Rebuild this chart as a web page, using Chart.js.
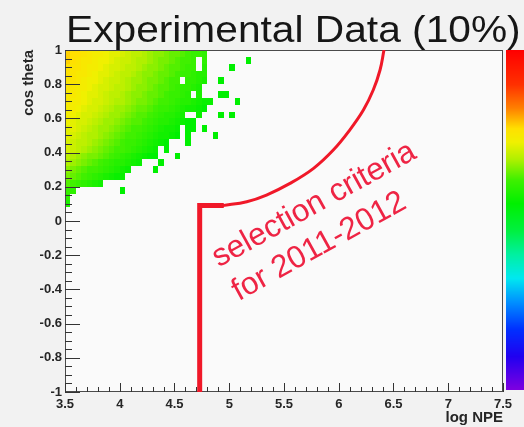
<!DOCTYPE html>
<html><head><meta charset="utf-8">
<script src="https://cdn.jsdelivr.net/npm/chart.js@4.4.1/dist/chart.umd.min.js"></script>
<style>html,body{margin:0;padding:0;background:#f2f2f2;overflow:hidden}#wrap{width:524px;height:427px}</style>
</head><body><div id="wrap"><canvas id="c" width="524" height="427"></canvas></div>
<script>
// ---------- text ----------
const titleText = 'Experimental Data (10%)';
const xTitle = 'log NPE';
const yTitle = 'cos theta';
const annotationLines = ['selection criteria', 'for 2011-2012'];

// ---------- axes ----------
const xTickValues = [3.5, 4, 4.5, 5, 5.5, 6, 6.5, 7, 7.5];
const xTickLabels = ['3.5', '4', '4.5', '5', '5.5', '6', '6.5', '7', '7.5'];
const yTickValues = [-1, -0.8, -0.6, -0.4, -0.2, 0, 0.2, 0.4, 0.6, 0.8, 1];
const yTickLabels = ['-1', '-0.8', '-0.6', '-0.4', '-0.2', '0', '0.2', '0.4', '0.6', '0.8', '1'];

// ---------- 2D histogram (bins: 0.05 in log NPE, 0.04 in cos theta) ----------
const binStartLogNPE = 3.5;
const binWidthLogNPE = 0.05;
const binHeightCos = 0.04;
// upper cos-theta edge of each row of bins
const rowTopCos = [1.00, 0.96, 0.92, 0.88, 0.84, 0.80, 0.76, 0.72, 0.68, 0.64, 0.60, 0.56,
                   0.52, 0.48, 0.44, 0.40, 0.36, 0.32, 0.28, 0.24, 0.20, 0.16, 0.12];
// colour-scale value (0-100 on the palette) of each bin, starting at log NPE = 3.5; 0 = empty
const rowZ = [
  [78,77,77,76,75,74,74,73,72,72,71,70,69,69,68,67,66,66,65,64,64,63,62,61,61,60],
  [78,77,76,75,75,74,73,73,72,71,70,70,69,68,68,67,66,65,65,64,63,62,62,61,0,60],
  [77,76,76,75,74,74,73,72,71,71,70,69,69,68,67,66,66,65,64,63,63,62,61,61,0,59],
  [77,76,75,75,74,73,72,72,71,70,69,69,68,67,66,66,65,64,64,63,62,61,61,60,59,59],
  [76,76,75,74,73,73,72,71,70,70,69,68,67,67,66,65,65,64,63,62,62,0,60,60,59,58],
  [76,75,74,74,73,72,71,71,70,69,69,68,67,66,66,65,64,63,63,62,61,60,60,59,58],
  [75,75,74,73,72,72,71,70,69,69,68,67,66,66,65,64,64,63,62,61,61,60,59,0,58],
  [75,74,74,73,72,71,71,70,69,68,68,67,66,65,65,64,63,62,62,61,60,59,59,58,57,56,56],
  [74,74,73,72,71,71,70,69,68,67,67,66,65,64,64,63,62,61,61,60,59,58,57,57,56,55],
  [74,73,72,71,71,70,69,68,67,67,66,65,64,63,63,62,61,60,59,59,58,57,0,0,56],
  [73,72,71,71,70,69,68,67,67,66,65,64,63,63,62,61,60,59,59,58,57,56,55,55],
  [72,72,71,70,69,68,67,67,66,65,64,63,62,62,61,60,59,58,57,57,56,0,55,55,0,55],
  [72,71,70,69,68,68,67,66,65,64,63,62,62,61,60,59,58,57,57,56,55,0,55,0,0,0,0,55],
  [71,70,69,69,68,67,66,65,64,63,62,61,61,60,59,58,57,56,55,0,0,0,55],
  [71,70,69,68,67,66,65,64,63,62,62,61,60,59,58,57,56,0,55],
  [69,68,67,66,65,65,64,63,62,61,60,59,58,57,56,55,55,0,0,0,55],
  [68,67,66,65,64,63,62,61,60,59,59,58,57,56,0,0,0,55],
  [66,65,64,63,62,62,61,60,59,58,57,56,0,0,0,0,55],
  [65,64,63,62,61,60,59,58,57,56,56],
  [63,62,61,60,59,58,57],
  [61,60,0,0,0,0,0,0,0,0,55],
  [60],
  [58]
];
// isolated bins further right (lower log NPE edge, upper cos edge, value)
const isoLogNPE = [5.15, 5.00, 4.90, 4.90, 4.95, 5.05, 4.90, 5.00];
const isoCos    = [0.96, 0.92, 0.84, 0.76, 0.76, 0.72, 0.64, 0.64];
const isoZ      = [55, 55, 55, 55, 55, 55, 55, 55];

// ---------- selection criteria curve ----------
const cutLogNPE = [4.73, 4.73, 4.95];
const cutCos    = [-1.0, 0.09, 0.09];
const arcLogNPE = [4.94, 5.16, 5.34, 5.555, 5.77, 5.95, 6.10, 6.225, 6.315, 6.377, 6.413];
const arcCos    = [0.09, 0.113, 0.152, 0.22, 0.308, 0.415, 0.532, 0.649, 0.766, 0.883, 1.0];
const annotationAt = {x: 4.905, y: -0.272};

// ---------- palette (ROOT rainbow) ----------
const paletteZ = [0, 10, 18, 26, 33, 40, 47, 55, 62, 68, 73, 77, 83, 90, 100];
const paletteRGB = [[128,0,224],[32,0,240],[0,48,255],[0,144,255],[0,232,240],[0,240,160],[0,240,64],
                    [0,240,0],[64,240,0],[176,240,0],[240,240,0],[255,224,0],[255,128,0],[255,48,0],[255,0,0]];
function zColor(z) {
  if (z <= paletteZ[0]) return 'rgb(' + paletteRGB[0].join(',') + ')';
  for (let k = 1; k < paletteZ.length; k++) {
    if (z <= paletteZ[k]) {
      const f = (z - paletteZ[k-1]) / (paletteZ[k] - paletteZ[k-1]);
      const a = paletteRGB[k-1], b = paletteRGB[k];
      return 'rgb(' + [0,1,2].map(c => Math.round(a[c] + f*(b[c]-a[c]))).join(',') + ')';
    }
  }
  return 'rgb(' + paletteRGB[paletteRGB.length-1].join(',') + ')';
}

// ---------- build datasets from the arrays ----------
const cells = [];
rowZ.forEach((row, j) => row.forEach((z, i) => {
  if (z > 0) cells.push({x: binStartLogNPE + (i + 0.5) * binWidthLogNPE, y: rowTopCos[j] - binHeightCos / 2, z});
}));
isoLogNPE.forEach((x, k) => cells.push({x: x + binWidthLogNPE / 2, y: isoCos[k] - binHeightCos / 2, z: isoZ[k]}));
const cutData = cutLogNPE.map((x, k) => ({x, y: cutCos[k]}));
const arcData = arcLogNPE.map((x, k) => ({x, y: arcCos[k]}));

const RED = 'rgb(240,24,40)';
const FONT = "'Liberation Sans', Arial, sans-serif";

const decor = {
  id: 'decor',
  beforeDraw(chart) {
    const {ctx, chartArea: a} = chart;
    ctx.save();
    ctx.fillStyle = '#f2f2f2';
    ctx.fillRect(0, 0, chart.width, chart.height);
    ctx.fillStyle = '#fafafa';
    ctx.fillRect(a.left, a.top, a.right - a.left, a.bottom - a.top);
    ctx.restore();
  },
  beforeDatasetsDraw(chart) {
    const {ctx, chartArea: a, scales: {x: xs, y: ys}} = chart;
    ctx.save();
    // heat-map bins
    chart.data.datasets[0].data.forEach(p => {
      const x0 = Math.round(xs.getPixelForValue(p.x - binWidthLogNPE / 2));
      const x1 = Math.round(xs.getPixelForValue(p.x + binWidthLogNPE / 2));
      const y0 = Math.round(ys.getPixelForValue(p.y + binHeightCos / 2));
      const y1 = Math.round(ys.getPixelForValue(p.y - binHeightCos / 2));
      ctx.fillStyle = zColor(p.z);
      ctx.fillRect(x0, y0, x1 - x0, y1 - y0);
    });
    // frame
    ctx.strokeStyle = '#4a4a4a';
    ctx.lineWidth = 1;
    ctx.strokeRect(a.left + 0.5, a.top + 0.5, a.right - a.left - 1, a.bottom - a.top - 1);
    // ticks (inside, ROOT style)
    ctx.strokeStyle = '#333';
    ctx.beginPath();
    for (let v = 3.5; v <= 7.5001; v += 0.1) {
      const px = Math.round(xs.getPixelForValue(v)) + 0.5;
      const major = Math.abs(v * 2 - Math.round(v * 2)) < 1e-6;
      ctx.moveTo(px, a.bottom);
      ctx.lineTo(px, a.bottom - (major ? 9 : 5));
    }
    for (let v = -1; v <= 1.0001; v += 0.05) {
      const py = Math.round(ys.getPixelForValue(v)) + 0.5;
      const major = Math.abs(v * 5 - Math.round(v * 5)) < 1e-6;
      ctx.moveTo(a.left, py);
      ctx.lineTo(a.left + (major ? 15 : 7), py);
    }
    ctx.stroke();
    // colour bar
    const cbLeft = a.right + 3, cbTop = a.top, cbBottom = a.bottom - 2;
    for (let py = cbTop; py < cbBottom; py++) {
      ctx.fillStyle = zColor(100 * (cbBottom - py) / (cbBottom - cbTop));
      ctx.fillRect(cbLeft, py, chart.width - cbLeft, 1);
    }
    ctx.restore();
  },
  afterDraw(chart) {
    const {ctx, scales: {x: xs, y: ys}} = chart;
    ctx.save();
    // title
    ctx.fillStyle = '#161616';
    ctx.font = '37px ' + FONT;
    ctx.textBaseline = 'alphabetic';
    ctx.textAlign = 'left';
    ctx.translate(66, 42);
    ctx.scale(1.1, 1);
    ctx.fillText(titleText, 0, 0);
    ctx.restore();
    // annotation
    ctx.save();
    ctx.fillStyle = 'rgb(238,36,68)';
    ctx.font = '31.5px ' + FONT;
    ctx.textBaseline = 'alphabetic';
    ctx.translate(xs.getPixelForValue(annotationAt.x), ys.getPixelForValue(annotationAt.y));
    ctx.rotate(-29 * Math.PI / 180);
    ctx.fillText(annotationLines[0], 0, 0);
    ctx.fillText(annotationLines[1], 1, 39);
    ctx.restore();
  }
};

new Chart(document.getElementById('c'), {
  type: 'scatter',
  data: {
    datasets: [
      {label: 'events', data: cells, pointRadius: 0, pointHoverRadius: 0, showLine: false},
      {label: 'cut', data: cutData, showLine: true, borderColor: RED, borderWidth: 5, pointRadius: 0,
       tension: 0, borderJoinStyle: 'miter', borderCapStyle: 'butt'},
      {label: 'cut arc', data: arcData, showLine: true, borderColor: RED, borderWidth: 3, pointRadius: 0,
       tension: 0.4}
    ]
  },
  options: {
    responsive: false, animation: false, devicePixelRatio: 1,
    layout: {padding: {top: 50, right: 21, left: 0, bottom: 0}},
    plugins: {legend: {display: false}, tooltip: {enabled: false}, title: {display: false}},
    scales: {
      x: {
        type: 'linear', min: 3.5, max: 7.5,
        afterBuildTicks: s => { s.ticks = xTickValues.map(v => ({value: v})); },
        afterFit: s => { s.height = 35; },
        ticks: {callback: (v, i) => xTickLabels[i], font: {family: FONT, size: 13, weight: 'bold'},
                color: '#262626', padding: 5, maxRotation: 0, autoSkip: false},
        grid: {display: false, drawTicks: false},
        border: {display: false},
        title: {display: true, text: xTitle, align: 'end', color: '#262626',
                font: {family: FONT, size: 15, weight: 'bold'}, padding: {top: 0, bottom: 0}}
      },
      y: {
        type: 'linear', min: -1, max: 1,
        afterBuildTicks: s => { s.ticks = yTickValues.map(v => ({value: v})); },
        afterFit: s => { s.width = 65; },
        ticks: {callback: (v, i) => yTickLabels[i], font: {family: FONT, size: 13, weight: 'bold'},
                color: '#262626', padding: 3, autoSkip: false},
        grid: {display: false, drawTicks: false},
        border: {display: false},
        title: {display: true, text: yTitle, align: 'end', color: '#262626',
                font: {family: FONT, size: 15, weight: 'bold'}, padding: {top: 20, bottom: 0}}
      }
    }
  },
  plugins: [decor]
});
</script></body></html>
